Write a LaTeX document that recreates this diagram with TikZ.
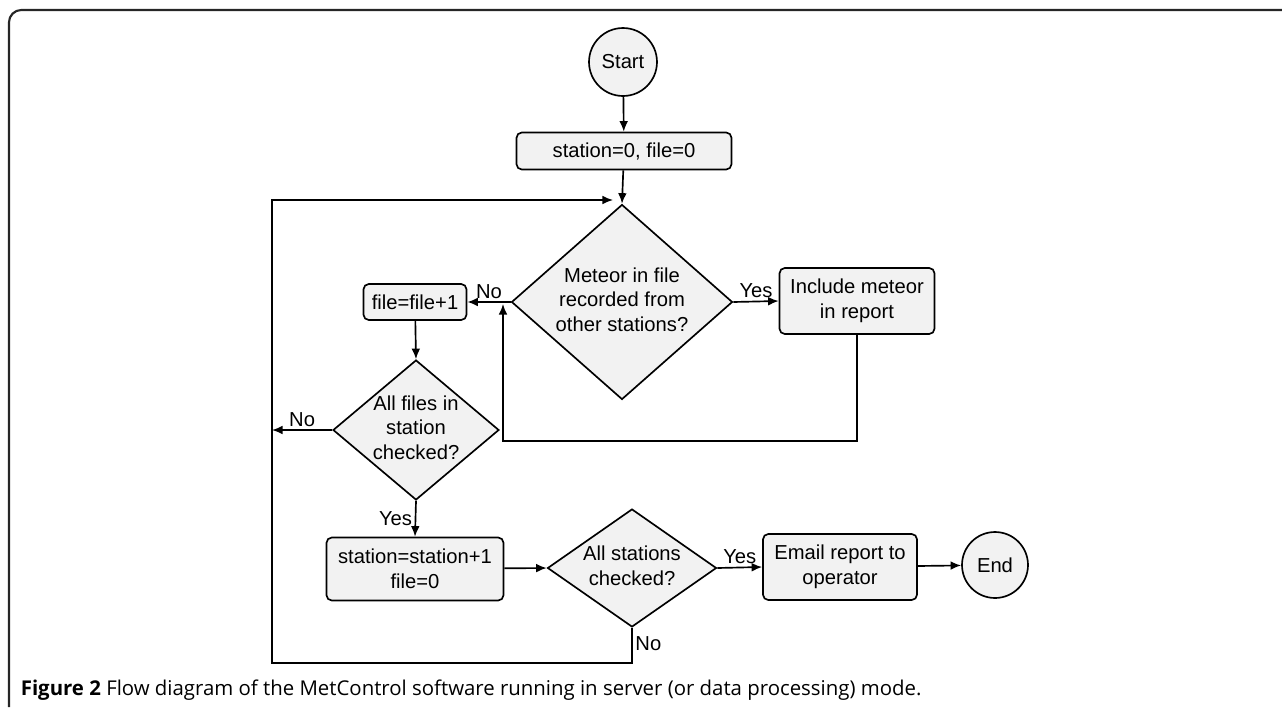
\documentclass[tikz,border=0pt]{standalone}
\usepackage{fontspec}
\setmainfont{Liberation Sans}
\newfontfamily\capfont{Open Sans}
\usetikzlibrary{shapes.geometric,arrows.meta}

% text inside a diamond, not widening it
\newcommand{\dtext}[1]{\raisebox{-0.5em}{\smash{\makebox[0pt]{\begin{tabular}{@{}c@{}}#1\end{tabular}}}}}

\tikzset{
  box/.style={draw, rounded corners=3pt, fill=gray!10, align=center, inner sep=0pt},
  decision/.style={draw, diamond, fill=gray!10, inner sep=0pt},
  terminal/.style={draw, circle, fill=gray!10, inner sep=0pt},
  arr/.style={-{Latex[length=6pt,width=5pt]}},
  lbl/.style={inner sep=1.5pt}
}

\begin{document}
\begin{tikzpicture}[x=0.02cm, y=-0.02cm, line width=0.95pt, font=\fontsize{11.5}{14}\selectfont]
  \useasboundingbox (0,0) rectangle (1282,707);

  % ramik
  \draw[black!85, line width=1.2pt, rounded corners=7pt] (9,707) -- (9,10) -- (1282,10);

  % uzly
  \node[terminal, minimum size=1.36cm] (start) at (623,62) {Start};
  \node[box, minimum width=4.3cm, minimum height=0.74cm] (init) at (624,151) {station=0, file=0};
  \node[decision, minimum width=4.42cm, minimum height=3.9cm] (meteor) at (622,302) {\dtext{Meteor in file\\recorded from\\other stations?}};
  \node[box, minimum width=3.1cm, minimum height=1.32cm] (include) at (857,301) {Include meteor\\in report};
  \node[box, minimum width=2.06cm, minimum height=0.72cm] (filecnt) at (415,302) {file=file+1};
  \node[decision, minimum width=3.32cm, minimum height=2.8cm] (allfiles) at (416,430) {\dtext{All files in\\station\\checked?}};
  \node[box, minimum width=3.54cm, minimum height=1.26cm] (nextst) at (415,569) {station=station+1\\file=0};
  \node[decision, minimum width=3.38cm, minimum height=2.36cm] (allst) at (632,568) {\dtext{All stations\\checked?}};
  \node[box, minimum width=3.08cm, minimum height=1.32cm] (email) at (840,567) {Email report to\\operator};
  \node[terminal, minimum size=1.32cm] (end) at (995,565) {End};

  % pomocne body
  \coordinate (looptop) at (272,200);
  \coordinate (loopbot) at (272,663);
  \coordinate (merge) at (613,200);
  \coordinate (retbot) at (503,441);
  \coordinate (retup) at (503,304);

  % spojnice
  \draw[arr] (start) -- (init);
  \draw[arr] (init) -- (meteor.north);
  \draw[arr] (meteor.east) -- node[lbl, above] (yes1) {Yes} (include.west);
  \draw[arr] (meteor.west) -- node[lbl, above] (no1) {No} (filecnt.east);
  \draw[arr] (include.south) -- (include.south |- retbot) -- (retbot) -- (retup);
  \draw[arr] (filecnt) -- (allfiles.north);
  \draw[arr] (allfiles.west) -- node[lbl, above] (no2) {No} (allfiles.west -| looptop);
  \draw[arr] (allfiles.south) -- node[lbl, left] (yes2) {Yes} (nextst.north);
  \draw[arr] (nextst) -- (allst.west);
  \draw[arr] (allst.east) -- node[lbl, above] (yes3) {Yes} (email.west);
  \draw[arr] (email) -- (end);
  \draw[arr] (allst.south) -- node[lbl, right, pos=0.45] (no3) {No} (allst.south |- loopbot) -- (loopbot) -- (looptop) -- (merge);

  % popis
  \node[anchor=base west, inner sep=0pt, font=\capfont\fontsize{11.6}{13}\selectfont] (caption) at (20,695)
    {\textbf{Figure 2} Flow diagram of the MetControl software running in server (or data processing) mode.};
\end{tikzpicture}
\end{document}
